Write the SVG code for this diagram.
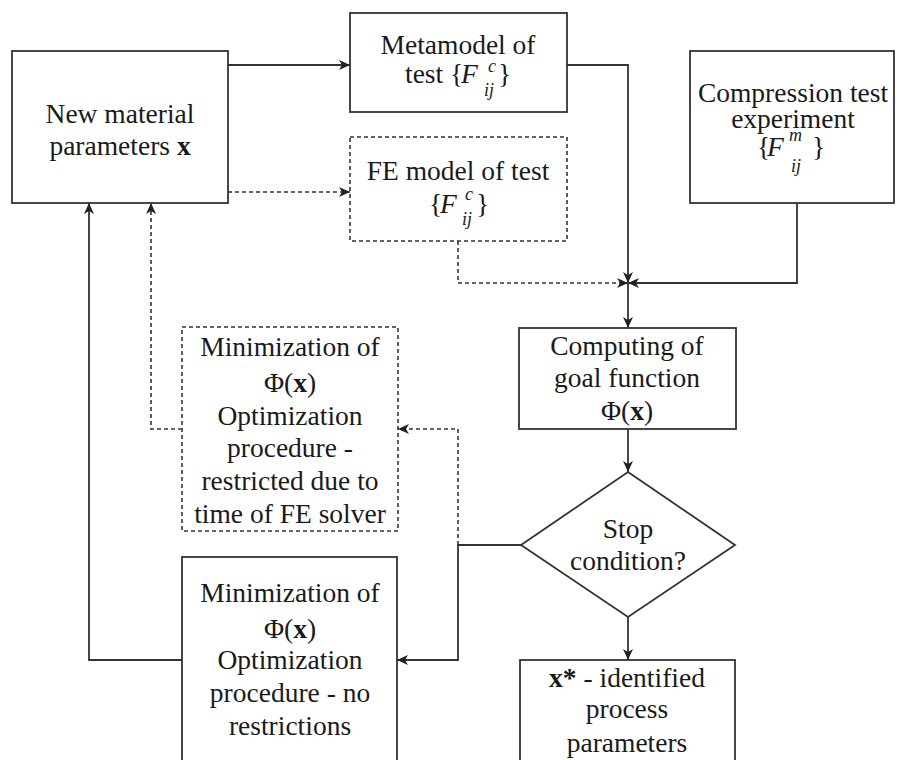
<svg xmlns="http://www.w3.org/2000/svg" width="897" height="760" viewBox="0 0 897 760">
<style>
.box{fill:#fff;stroke:#333;stroke-width:1.8}
.dbox{fill:#fff;stroke:#333;stroke-width:1.6;stroke-dasharray:4 3}
text{font-family:'Liberation Serif','Times New Roman','DejaVu Serif',serif;font-size:27.5px;fill:#1a1a1a}
.c{text-anchor:middle}
.it{font-style:italic}
.sm{font-size:18px}
.b{font-weight:bold}
.ln{fill:none;stroke:#333;stroke-width:1.8}
.dl{fill:none;stroke:#333;stroke-width:1.6;stroke-dasharray:4 3}
</style>
<defs>
<marker id="ah" markerUnits="userSpaceOnUse" markerWidth="12" markerHeight="10" refX="11" refY="5" orient="auto">
<path d="M0,0 L11,5 L0,10 L3,5 z" fill="#222"/>
</marker>
</defs>
<rect width="897" height="760" fill="#fff"/>
<g id="connectors">
<path class="ln" d="M228,65 H350" marker-end="url(#ah)"/>
<path class="dl" d="M228,192 H350" marker-end="url(#ah)"/>
<path class="ln" d="M567,65 H628 V283" marker-end="url(#ah)"/>
<path class="dl" d="M458,241 V283 H628" marker-end="url(#ah)"/>
<path class="ln" d="M797,203 V283 H628" marker-end="url(#ah)"/>
<path class="ln" d="M628,283 V328" marker-end="url(#ah)"/>
<path class="ln" d="M628,429 V472" marker-end="url(#ah)"/>
<path class="ln" d="M521,545 H458 V660 H397" marker-end="url(#ah)"/>
<path class="dl" d="M458,545 V429 H398" marker-end="url(#ah)"/>
<path class="ln" d="M628,617 V660" marker-end="url(#ah)"/>
<path class="dl" d="M182,429 H151 V203" marker-end="url(#ah)"/>
<path class="ln" d="M182,660 H89 V203" marker-end="url(#ah)"/>
</g>
<g id="new-material">
<rect class="box" x="12" y="51" width="216" height="152"/>
<text class="c" x="120" y="123" font-family="Liberation Serif, serif">New material</text>
<text class="c" x="120" y="155">parameters <tspan class="b">x</tspan></text>
</g>
<g id="metamodel">
<rect class="box" x="350" y="13" width="217" height="99"/>
<text class="c" x="458" y="54">Metamodel of</text>
<text x="405" y="83">test {</text>
<text class="it" x="461" y="83">F</text>
<text class="it sm" x="488" y="72">c</text>
<text class="it sm" x="484" y="96">ij</text>
<text x="498" y="83">}</text>
</g>
<g id="fe-model">
<rect class="dbox" x="350" y="137" width="217" height="104"/>
<text class="c" x="458" y="180">FE model of test</text>
<text x="429" y="213">{</text>
<text class="it" x="440" y="213">F</text>
<text class="it sm" x="465" y="200">c</text>
<text class="it sm" x="462" y="225">ij</text>
<text x="476" y="213">}</text>
</g>
<g id="compression">
<rect class="box" x="690" y="51" width="204" height="152"/>
<text class="c" x="793" y="102">Compression test</text>
<text class="c" x="793" y="128">experiment</text>
<text x="757" y="156">{</text>
<text class="it" x="767" y="156">F</text>
<text class="it sm" x="789" y="141">m</text>
<text class="it sm" x="791" y="172">ij</text>
<text x="812" y="156">}</text>
</g>
<g id="computing">
<rect class="box" x="519" y="328" width="217" height="101"/>
<text class="c" x="627" y="355">Computing of</text>
<text class="c" x="627" y="387">goal function</text>
<text class="c" x="627" y="420">Φ(<tspan class="b">x</tspan>)</text>
</g>
<g id="stop">
<path class="box" d="M628,472 L735,545 L628,617 L521,545 Z"/>
<text class="c" x="628" y="538">Stop</text>
<text class="c" x="628" y="570">condition?</text>
</g>
<g id="min-restricted">
<rect class="dbox" x="182" y="327" width="216" height="204"/>
<text class="c" x="290" y="356">Minimization of</text>
<text class="c" x="290" y="392">Φ(<tspan class="b">x</tspan>)</text>
<text class="c" x="290" y="425">Optimization</text>
<text class="c" x="290" y="457">procedure -</text>
<text class="c" x="290" y="490">restricted due to</text>
<text class="c" x="290" y="523">time of FE solver</text>
</g>
<g id="min-free">
<rect class="box" x="182" y="557" width="215" height="215"/>
<text class="c" x="290" y="602">Minimization of</text>
<text class="c" x="290" y="638">Φ(<tspan class="b">x</tspan>)</text>
<text class="c" x="290" y="669">Optimization</text>
<text class="c" x="290" y="702">procedure - no</text>
<text class="c" x="290" y="735">restrictions</text>
</g>
<g id="result">
<rect class="box" x="520" y="660" width="215" height="112"/>
<text class="c" x="627" y="687"><tspan class="b">x*</tspan> - identified</text>
<text class="c" x="627" y="718">process</text>
<text class="c" x="627" y="752">parameters</text>
</g>
</svg>
